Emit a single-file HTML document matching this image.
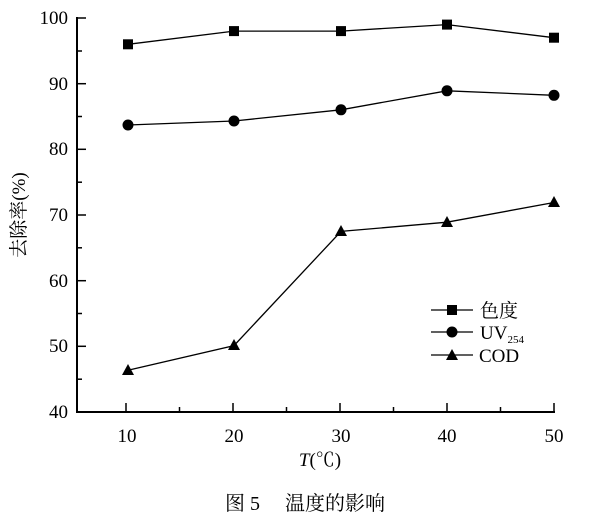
<!DOCTYPE html><html><head><style>body{margin:0;background:#fff}</style></head><body>
<svg width="604" height="525" xmlns="http://www.w3.org/2000/svg" font-family="Liberation Serif, Noto Serif CJK SC, serif">
<g stroke="#000" stroke-width="2" fill="none">
<line x1="77" y1="17" x2="77" y2="413"/>
<line x1="76" y1="412" x2="555" y2="412"/>
<!-- y ticks -->
<g stroke-width="1.5">
<line x1="77" y1="18" x2="86" y2="18"/><line x1="77" y1="51" x2="82" y2="51"/>
<line x1="77" y1="83.7" x2="86" y2="83.7"/><line x1="77" y1="116.5" x2="82" y2="116.5"/>
<line x1="77" y1="149.3" x2="86" y2="149.3"/><line x1="77" y1="182.2" x2="82" y2="182.2"/>
<line x1="77" y1="215" x2="86" y2="215"/><line x1="77" y1="247.8" x2="82" y2="247.8"/>
<line x1="77" y1="280.7" x2="86" y2="280.7"/><line x1="77" y1="313.5" x2="82" y2="313.5"/>
<line x1="77" y1="346.3" x2="86" y2="346.3"/><line x1="77" y1="379.2" x2="82" y2="379.2"/>
<!-- x ticks -->
<line x1="126" y1="412" x2="126" y2="403"/><line x1="179.5" y1="412" x2="179.5" y2="407"/>
<line x1="233" y1="412" x2="233" y2="403"/><line x1="286.5" y1="412" x2="286.5" y2="407"/>
<line x1="340" y1="412" x2="340" y2="403"/><line x1="393.5" y1="412" x2="393.5" y2="407"/>
<line x1="447" y1="412" x2="447" y2="403"/><line x1="500.5" y1="412" x2="500.5" y2="407"/>
<line x1="554" y1="412" x2="554" y2="403"/>
</g>
<g stroke-width="1.3">
<polyline points="128,44.3 234,31.1 341,31.1 447,24.6 554,37.7"/>
<polyline points="128,125 234,121 341,109.8 447,90.8 554,95.3"/>
<polyline points="128,370.3 234,345.6 341,231.4 447,222.2 554,202.5"/>
<line x1="431" y1="310" x2="473" y2="310"/><line x1="431" y1="332" x2="473" y2="332"/><line x1="431" y1="355" x2="473" y2="355"/>
</g>
</g>
<g fill="#000">
<rect x="123" y="39.3" width="10" height="10"/><rect x="229" y="26.1" width="10" height="10"/><rect x="336" y="26.1" width="10" height="10"/><rect x="442" y="19.6" width="10" height="10"/><rect x="549" y="32.7" width="10" height="10"/>
<circle cx="128" cy="125" r="5.5"/><circle cx="234" cy="121" r="5.5"/><circle cx="341" cy="109.8" r="5.5"/><circle cx="447" cy="90.8" r="5.5"/><circle cx="554" cy="95.3" r="5.5"/>
<polygon points="128,364 122,375 134,375"/><polygon points="234,339 228,350 240,350"/><polygon points="341,225 335,236 347,236"/><polygon points="447,216 441,227 453,227"/><polygon points="554,196 548,207 560,207"/>
<rect x="447" y="305" width="10" height="10"/><circle cx="452" cy="332" r="5.5"/><polygon points="452,349 446,360 458,360"/>
</g>
<g font-size="19" fill="#000">
<g text-anchor="end"><text x="68" y="24">100</text><text x="68" y="90">90</text><text x="68" y="155">80</text><text x="68" y="221">70</text><text x="68" y="287">60</text><text x="68" y="352">50</text><text x="68" y="418">40</text></g>
<g text-anchor="middle"><text x="127" y="442">10</text><text x="234" y="442">20</text><text x="341" y="442">30</text><text x="447" y="442">40</text><text x="554" y="442">50</text></g>
<text x="480" y="317">色度</text>
<text x="480" y="339">UV<tspan font-size="11" dy="4">254</tspan></text>
<text x="479" y="362">COD</text>
<text x="320" y="466" text-anchor="middle"><tspan font-style="italic">T</tspan>(℃)</text>
<text transform="translate(25,215) rotate(-90)" text-anchor="middle">去除率(%)</text>
<text x="305" y="510" text-anchor="middle" font-size="20">图 5　 温度的影响</text>
</g>
</svg></body></html>
